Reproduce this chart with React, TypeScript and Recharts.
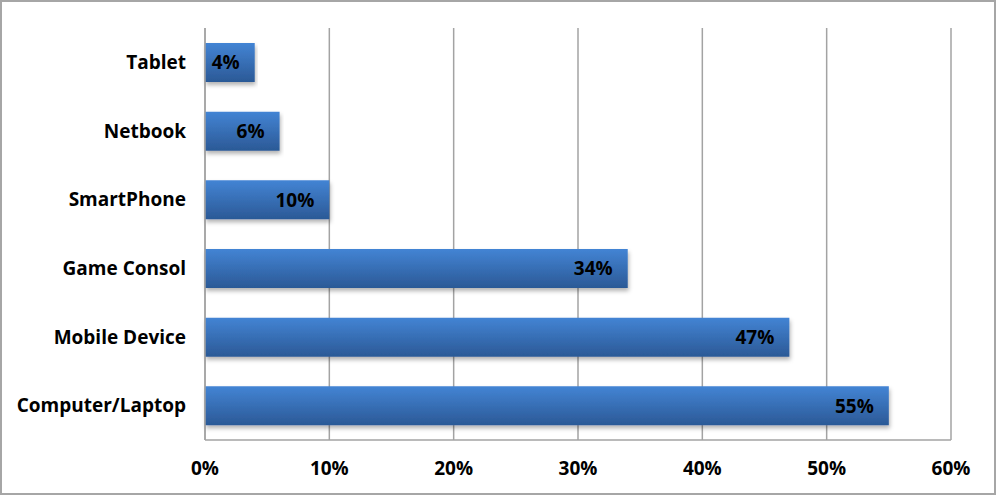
import React from "react";
import { BarChart, Bar, XAxis, YAxis, CartesianGrid, LabelList } from "recharts";

const devices = ["Tablet", "Netbook", "SmartPhone", "Game Consol", "Mobile Device", "Computer/Laptop"];
const shares = [4, 6, 10, 34, 47, 55];
const ticks = [0, 10, 20, 30, 40, 50, 60];

const chartData = devices.map((name, i) => ({ name, share: shares[i] }));

const font = "'Open Sans', 'Noto Sans', sans-serif";
const gridColor = "#a3a3a3";

export default function App() {
  return (
    <div
      style={{
        position: "absolute",
        left: 0,
        top: 0,
        width: 996,
        height: 495,
        boxSizing: "border-box",
        border: "2px solid #a6a6a6",
        background: "#fff",
      }}
    >
      <BarChart
        width={992}
        height={491}
        data={chartData}
        layout="vertical"
        margin={{ top: 26, right: 43, bottom: 23, left: 0 }}
        barCategoryGap={15}
      >
        <defs>
          <linearGradient id="barFill" x1="0" y1="0" x2="0" y2="1">
            <stop offset="0%" stopColor="#4384d4" />
            <stop offset="100%" stopColor="#2b5996" />
          </linearGradient>
          <filter id="barShadow" x="-5%" y="-20%" width="110%" height="160%">
            <feDropShadow dx="1" dy="3" stdDeviation="2" floodColor="#000" floodOpacity={0.3} />
          </filter>
        </defs>
        <CartesianGrid horizontal={false} stroke={gridColor} strokeWidth={1.5} />
        <XAxis
          type="number"
          domain={[0, 60]}
          ticks={ticks}
          tickFormatter={(v) => `${v}%`}
          axisLine={{ stroke: gridColor, strokeWidth: 1.5 }}
          tickLine={false}
          tickSize={6}
          tickMargin={16}
          height={30}
          tick={{ fill: "#000", fontSize: 19, fontWeight: 700, fontFamily: font }}
        />
        <YAxis
          type="category"
          dataKey="name"
          width={203}
          axisLine={{ stroke: gridColor, strokeWidth: 1.5 }}
          tickLine={false}
          tickSize={6}
          tickMargin={13}
          tick={{ fill: "#000", fontSize: 19, fontWeight: 700, fontFamily: font }}
        />
        <Bar
          dataKey="share"
          fill="url(#barFill)"
          barSize={39}
          filter="url(#barShadow)"
          isAnimationActive={false}
        >
          <LabelList
            dataKey="share"
            position="insideRight"
            offset={15}
            formatter={(v: any) => `${v}%`}
            style={{ fill: "#000", fontSize: 19, fontWeight: 700, fontFamily: font }}
          />
        </Bar>
      </BarChart>
    </div>
  );
}
